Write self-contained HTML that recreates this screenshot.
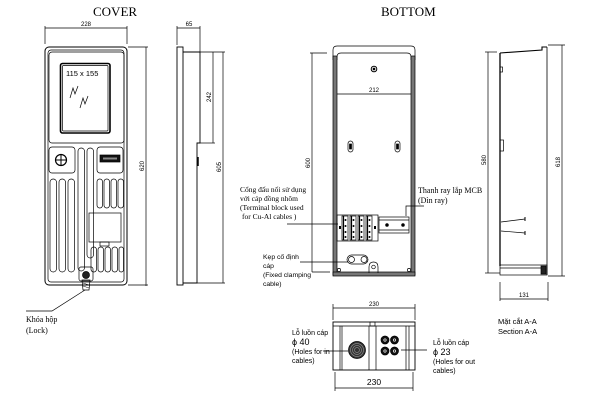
<!DOCTYPE html>
<html><head><meta charset="utf-8">
<style>
html,body{margin:0;padding:0;background:#fff;}
svg{display:block;}
.s{font-family:"Liberation Serif",serif;}
.a{font-family:"Liberation Sans",sans-serif;}
</style></head>
<body>
<svg width="600" height="400" viewBox="0 0 600 400" xmlns="http://www.w3.org/2000/svg">
<g fill="none" stroke="#000" stroke-width="0.7">
<!-- ===== COVER ===== -->
<text x="93" y="16" class="s" font-size="13" fill="#000" stroke="none">COVER</text>
<!-- dim 228 -->
<line x1="45" y1="28" x2="127" y2="28"/>
<line x1="45" y1="26" x2="45" y2="44"/>
<line x1="127" y1="26" x2="127" y2="44"/>
<text x="86" y="26" class="a" font-size="6" text-anchor="middle" fill="#000" stroke="none">228</text>
<!-- dim 620 -->
<line x1="146" y1="47" x2="146" y2="286"/>
<line x1="128" y1="47" x2="148" y2="47"/>
<line x1="128" y1="285" x2="148" y2="285"/>
<text x="0" y="0" class="a" font-size="6" text-anchor="middle" fill="#000" stroke="none" transform="translate(144,166) rotate(-90)">620</text>
<!-- body -->
<rect x="45" y="47" width="82" height="238" rx="4" stroke-width="1"/>
<rect x="48" y="50" width="76" height="232" rx="3"/>
<rect x="49" y="52" width="75" height="91" rx="3"/>
<rect x="60.5" y="63.5" width="49.5" height="69.5" rx="2" stroke-width="1.6"/>
<rect x="62.5" y="65.5" width="45.5" height="65.5" rx="1"/>
<text x="66" y="76" class="a" font-size="7.5" fill="#000" stroke="none">115 x 155</text>
<path d="M70,98 L73,88 L75,94 L78,86 M80,108 L83,98 L85,104 L88,96"/>
<!-- buttons -->
<rect x="49" y="147" width="26" height="26" rx="3"/>
<circle cx="61" cy="160" r="5.5" stroke-width="1.2"/>
<path d="M55.5,160 H66.5 M61,154.5 V165.5" stroke-width="1"/>
<rect x="97" y="147" width="26" height="26" rx="3"/>
<rect x="100" y="155" width="20" height="7" fill="#111"/>
<rect x="103" y="157.5" width="14" height="2" fill="#888" stroke="none"/>
<!-- middle tall slots -->
<rect x="78" y="148" width="6.5" height="123" rx="3.2"/>
<rect x="87" y="148" width="6.5" height="110" rx="3.2"/>
<!-- left slots -->
<rect x="50" y="179" width="6.5" height="93" rx="3.2"/>
<rect x="59" y="179" width="6.5" height="93" rx="3.2"/>
<rect x="68" y="179" width="6.5" height="93" rx="3.2"/>
<!-- right upper slots -->
<rect x="97" y="179" width="5.5" height="29" rx="2.7"/>
<rect x="104" y="179" width="5.5" height="29" rx="2.7"/>
<rect x="111" y="179" width="5.5" height="29" rx="2.7"/>
<rect x="118" y="179" width="5.5" height="29" rx="2.7"/>
<!-- window rect -->
<rect x="89" y="213" width="32" height="29"/>
<rect x="100" y="242" width="9" height="4"/>
<!-- right lower slots -->
<rect x="91" y="247" width="5.5" height="25" rx="2.7"/>
<rect x="98" y="247" width="5.5" height="25" rx="2.7"/>
<rect x="105" y="247" width="5.5" height="25" rx="2.7"/>
<rect x="112" y="247" width="5.5" height="25" rx="2.7"/>
<rect x="119" y="247" width="4.5" height="25" rx="2.2"/>
<!-- lock -->
<rect x="79" y="267" width="14" height="14" rx="2"/>
<circle cx="86" cy="275" r="3.5" fill="#222"/>
<path d="M82,280 L90,280 L89,290 L83,290 Z"/>
<path d="M83,283 L89,285 M83,286 L89,288" stroke-width="0.5"/>
<!-- leader -->
<path d="M85,290 L52,311 L26,311"/>
<text x="26" y="322" class="s" font-size="8" fill="#000" stroke="none">Khóa hộp</text>
<text x="26" y="333" class="s" font-size="8" fill="#000" stroke="none">(Lock)</text>

<!-- ===== SIDE VIEW ===== -->
<line x1="177" y1="28" x2="200" y2="28"/>
<line x1="177" y1="26" x2="177" y2="45"/>
<line x1="200" y1="26" x2="200" y2="52"/>
<text x="189" y="26" class="a" font-size="6" text-anchor="middle" fill="#000" stroke="none">65</text>
<rect x="177" y="47" width="6" height="238" stroke-width="0.9"/>
<path d="M183,52 H200 V143 H197 V283 H183" stroke-width="0.9"/>
<line x1="200" y1="52" x2="225" y2="52"/>
<line x1="200" y1="143" x2="215" y2="143"/>
<line x1="197" y1="283" x2="225" y2="283"/>
<line x1="213" y1="52" x2="213" y2="143"/>
<line x1="223" y1="52" x2="223" y2="283"/>
<line x1="198" y1="157" x2="198" y2="166" stroke-width="1.5"/>
<text x="0" y="0" class="a" font-size="6" text-anchor="middle" fill="#000" stroke="none" transform="translate(211,97) rotate(-90)">242</text>
<text x="0" y="0" class="a" font-size="6" text-anchor="middle" fill="#000" stroke="none" transform="translate(221,167) rotate(-90)">605</text>

<!-- ===== BOTTOM ===== -->
<text x="381" y="16" class="s" font-size="13" fill="#000" stroke="none">BOTTOM</text>
<path d="M333,60 L333,50 Q333,46 337,46 L411,46 Q415,46 415,50 L415,60"/>
<path d="M337,60 L337,57 Q337,53 341,53 L407,53 Q411,53 411,57 L411,60"/>
<rect x="333" y="56" width="4" height="219" fill="#777" stroke-width="0.7"/>
<rect x="411" y="56" width="4" height="219" fill="#777" stroke-width="0.7"/>
<rect x="333" y="272" width="82" height="4" fill="#777"/>
<circle cx="339" cy="270" r="1.6" fill="#fff"/>
<circle cx="409" cy="270" r="1.6" fill="#fff"/>
<circle cx="374" cy="69" r="2.8" stroke-width="1"/>
<circle cx="374" cy="69" r="1" fill="#000"/>
<!-- dim 212 -->
<line x1="337" y1="94" x2="411" y2="94"/>
<text x="374" y="92" class="a" font-size="6" text-anchor="middle" fill="#000" stroke="none">212</text>
<!-- slots -->
<rect x="348" y="141" width="5" height="11" rx="2.5"/>
<rect x="349.5" y="144" width="2" height="5" fill="#000"/>
<rect x="395" y="141" width="5" height="11" rx="2.5"/>
<rect x="396.5" y="144" width="2" height="5" fill="#000"/>
<!-- dim 600 -->
<line x1="312" y1="53" x2="312" y2="272"/>
<line x1="310" y1="53" x2="327" y2="53"/>
<line x1="312" y1="272" x2="330" y2="272"/>
<text x="0" y="0" class="a" font-size="6" text-anchor="middle" fill="#000" stroke="none" transform="translate(310,163) rotate(-90)">600</text>
<!-- terminal block -->
<rect x="337" y="215" width="41" height="26"/>
<rect x="342" y="216" width="6" height="24"/>
<rect x="350" y="216" width="6" height="24"/>
<rect x="358" y="216" width="6" height="24"/>
<rect x="366" y="216" width="6" height="24"/>
<line x1="343.5" y1="216" x2="343.5" y2="240" stroke-width="1.2"/>
<line x1="351.5" y1="216" x2="351.5" y2="240" stroke-width="1.2"/>
<line x1="359.5" y1="216" x2="359.5" y2="240" stroke-width="1.2"/>
<line x1="367.5" y1="216" x2="367.5" y2="240" stroke-width="1.2"/>
<g fill="#000" stroke="none">
<circle cx="345.5" cy="220" r="1"/><circle cx="345.5" cy="226" r="1"/><circle cx="345.5" cy="232" r="1"/><circle cx="345.5" cy="237" r="1"/>
<circle cx="353.5" cy="220" r="1"/><circle cx="353.5" cy="226" r="1"/><circle cx="353.5" cy="232" r="1"/><circle cx="353.5" cy="237" r="1"/>
<circle cx="361.5" cy="220" r="1"/><circle cx="361.5" cy="226" r="1"/><circle cx="361.5" cy="232" r="1"/><circle cx="361.5" cy="237" r="1"/>
<circle cx="369.5" cy="220" r="1"/><circle cx="369.5" cy="226" r="1"/><circle cx="369.5" cy="232" r="1"/><circle cx="369.5" cy="237" r="1"/>
<rect x="339" y="226" width="2" height="3"/><rect x="374" y="226" width="2" height="3"/>
</g>
<!-- DIN rail -->
<rect x="379" y="217" width="30" height="16"/>
<line x1="379" y1="220" x2="409" y2="220"/>
<line x1="379" y1="230" x2="409" y2="230"/>
<circle cx="387" cy="225" r="1.4" fill="#000"/>
<circle cx="403" cy="225" r="1.4" fill="#000"/>
<path d="M406,216 L406,206 L424,206"/>
<text x="418" y="193" class="s" font-size="8" fill="#000" stroke="none">Thanh ray lắp MCB</text>
<text x="418" y="203" class="s" font-size="8" fill="#000" stroke="none">(Dìn ray)</text>
<!-- clamp -->
<rect x="347" y="255" width="21" height="9" rx="4.5"/>
<circle cx="351.5" cy="259.5" r="3" fill="#fff"/>
<circle cx="364" cy="259.5" r="3" fill="#fff"/>
<path d="M369,273 L369,267 Q369,262 373.5,262 Q378,262 378,267 L378,273"/>
<circle cx="373.5" cy="267" r="1.8"/>
<!-- left labels -->
<text x="240" y="192" class="s" font-size="7.5" fill="#000" stroke="none">Cổng đấu nối sử dụng</text>
<text x="240" y="201" class="s" font-size="7.5" fill="#000" stroke="none">với cáp đồng nhôm</text>
<text x="240" y="210" class="s" font-size="7.5" fill="#000" stroke="none">(Terminal block used</text>
<text x="242" y="219" class="s" font-size="7.5" fill="#000" stroke="none">for Cu-Al cables )</text>
<line x1="287" y1="224" x2="338" y2="224"/>
<text x="263" y="259" class="a" font-size="6.8" fill="#000" stroke="none">Kẹp cố định</text>
<text x="263" y="268" class="a" font-size="6.8" fill="#000" stroke="none">cáp</text>
<text x="263" y="277" class="a" font-size="6.8" fill="#000" stroke="none">(Fixed clamping</text>
<text x="263" y="286" class="a" font-size="6.8" fill="#000" stroke="none">cable)</text>
<line x1="300" y1="262" x2="348" y2="262"/>

<!-- ===== BOTTOM DETAIL ===== -->
<line x1="333" y1="308" x2="415" y2="308"/>
<line x1="333" y1="304" x2="333" y2="320"/>
<line x1="415" y1="304" x2="415" y2="320"/>
<text x="374" y="306" class="a" font-size="6" text-anchor="middle" fill="#000" stroke="none">230</text>
<rect x="333" y="322" width="82" height="48" stroke-width="0.9"/>
<line x1="333" y1="326" x2="415" y2="326"/>
<line x1="340" y1="326" x2="340" y2="370"/>
<line x1="342" y1="326" x2="342" y2="370"/>
<line x1="406" y1="326" x2="406" y2="370"/>
<line x1="409" y1="326" x2="409" y2="370"/>
<line x1="369" y1="326" x2="369" y2="370"/>
<line x1="376" y1="326" x2="376" y2="370"/>
<rect x="370" y="322" width="5" height="4"/>
<circle cx="357" cy="350" r="8.5" fill="#333"/>
<circle cx="357" cy="350" r="6.5" stroke="#888"/>
<circle cx="357" cy="350" r="4.5" stroke="#888"/>
<circle cx="357" cy="350" r="2.5" stroke="#888"/>
<circle cx="385" cy="340" r="4" fill="#111"/>
<circle cx="394.5" cy="340" r="4" fill="#111"/>
<circle cx="385" cy="351" r="4" fill="#111"/>
<circle cx="394.5" cy="351" r="4" fill="#111"/>
<circle cx="385" cy="340" r="1.2" stroke="#fff"/>
<circle cx="394.5" cy="340" r="1.2" stroke="#fff"/>
<circle cx="385" cy="351" r="1.2" stroke="#fff"/>
<circle cx="394.5" cy="351" r="1.2" stroke="#fff"/>
<line x1="323" y1="351" x2="348" y2="351"/>
<line x1="401" y1="350" x2="427" y2="350"/>
<line x1="335" y1="388" x2="413" y2="388"/>
<line x1="335" y1="372" x2="335" y2="391"/>
<line x1="413" y1="372" x2="413" y2="391"/>
<text x="374" y="385" class="a" font-size="8.5" text-anchor="middle" fill="#000" stroke="none">230</text>
<g class="a" font-size="7" fill="#000" stroke="none">
<text x="292" y="335">Lỗ luồn cáp</text>
<text x="292" y="345" font-size="9">ϕ 40</text>
<text x="292" y="354">(Holes for in</text>
<text x="292" y="363">cables)</text>
<text x="433" y="345">Lỗ luồn cáp</text>
<text x="433" y="355" font-size="9">ϕ 23</text>
<text x="433" y="364">(Holes for out</text>
<text x="433" y="373">cables)</text>
</g>

<!-- ===== SECTION A-A ===== -->
<path d="M500,53 L542,50 L542,47 L547,47" stroke-width="1.1"/>
<line x1="547" y1="47" x2="547" y2="275" stroke-width="0.8"/>
<line x1="500" y1="53" x2="500" y2="266" stroke-width="1.3"/>
<rect x="500" y="67" width="2.5" height="5"/>
<rect x="500" y="140" width="3.5" height="11"/>
<path d="M501,222 L525,219 M501,231 L525,233"/>
<line x1="525" y1="217" x2="525" y2="221" stroke-width="1"/>
<line x1="525" y1="231" x2="525" y2="235" stroke-width="1"/>
<rect x="500" y="265" width="47" height="10"/>
<line x1="500" y1="268" x2="542" y2="268"/>
<rect x="541" y="266" width="5" height="8" fill="#222"/>
<line x1="488" y1="52" x2="488" y2="273"/>
<line x1="485" y1="52" x2="497" y2="52"/>
<line x1="485" y1="273" x2="500" y2="273"/>
<text x="0" y="0" class="a" font-size="6" text-anchor="middle" fill="#000" stroke="none" transform="translate(486,160) rotate(-90)">580</text>
<line x1="562" y1="45" x2="562" y2="276"/>
<line x1="548" y1="45" x2="565" y2="45"/>
<line x1="548" y1="276" x2="565" y2="276"/>
<text x="0" y="0" class="a" font-size="6" text-anchor="middle" fill="#000" stroke="none" transform="translate(560,162) rotate(-90)">618</text>
<line x1="500" y1="299" x2="548" y2="299"/>
<line x1="500" y1="282" x2="500" y2="301"/>
<line x1="548" y1="282" x2="548" y2="301"/>
<text x="524" y="297" class="a" font-size="6" text-anchor="middle" fill="#000" stroke="none">131</text>
<text x="498" y="324" class="a" font-size="7.5" fill="#000" stroke="none">Mặt cắt  A-A</text>
<text x="498" y="334" class="a" font-size="7.5" fill="#000" stroke="none">Section  A-A</text>
</g>
</svg>
</body></html>
